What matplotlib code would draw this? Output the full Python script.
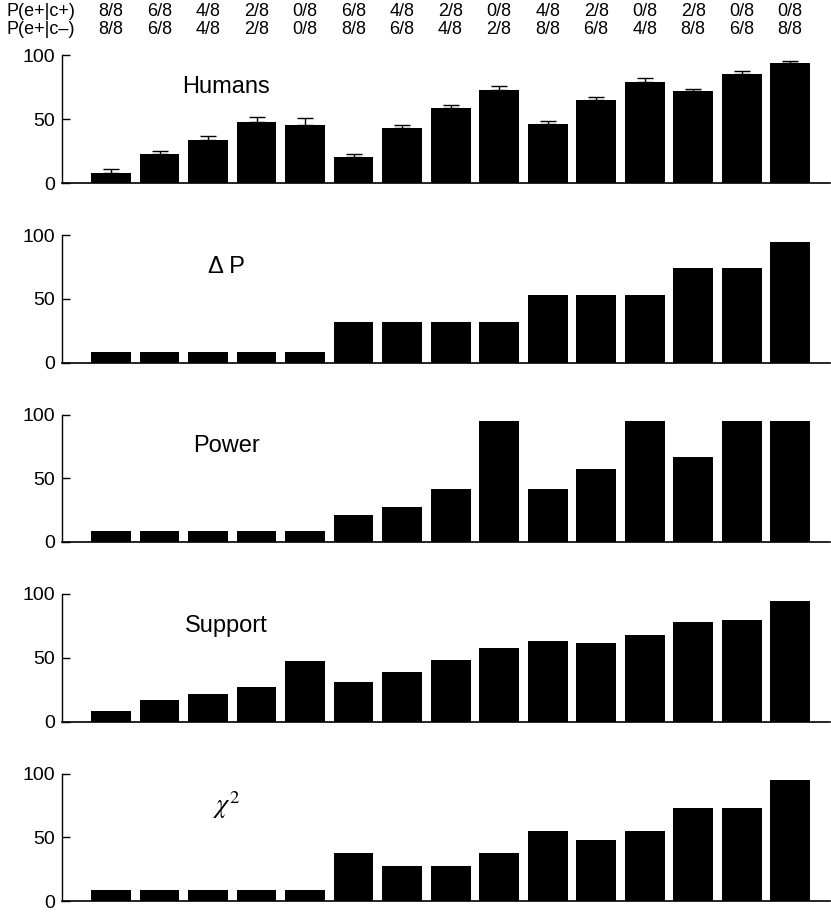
import matplotlib
matplotlib.use("Agg")
import matplotlib.pyplot as plt
import matplotlib.transforms as mtransforms

plt.rcParams['font.family'] = ['Liberation Sans', 'DejaVu Sans']
plt.rcParams['mathtext.fontset'] = 'stix'

# contingency conditions (probability of effect given cause present / absent)
p_e_c_plus = ["8/8", "6/8", "4/8", "2/8", "0/8", "6/8", "4/8", "2/8", "0/8",
              "4/8", "2/8", "0/8", "2/8", "0/8", "0/8"]
p_e_c_minus = ["8/8", "6/8", "4/8", "2/8", "0/8", "8/8", "6/8", "4/8", "2/8",
               "8/8", "6/8", "4/8", "8/8", "6/8", "8/8"]

humans = [8.1, 22.5, 33.7, 47.5, 45.2, 20.6, 42.8, 58.5, 72.6,
          46.0, 64.8, 79.6, 71.8, 85.4, 94.3]
humans_err = [2.6, 2.8, 2.9, 3.9, 5.5, 2.1, 2.9, 2.9, 3.6,
              2.8, 2.3, 2.9, 2.1, 2.6, 1.5]
delta_p = [8.6, 8.6, 8.6, 8.6, 8.6, 31.9, 31.9, 31.9, 31.9,
           53.3, 53.3, 53.3, 74.2, 74.2, 94.5]
power = [8.6, 8.6, 8.6, 8.6, 8.6, 21.1, 27.2, 41.3, 94.8,
         41.3, 57.4, 94.8, 66.3, 94.8, 94.8]
support = [8.6, 17.2, 21.7, 27.4, 47.3, 31.3, 38.6, 48.6, 57.7,
           63.2, 61.6, 67.9, 78.1, 79.6, 94.8]
chi_sq = [8.6, 8.6, 8.6, 8.6, 8.6, 37.3, 27.7, 27.7, 37.3,
          55.1, 48.0, 55.1, 73.1, 73.1, 94.8]

panels = [("Humans", humans), ("\u0394 P", delta_p), ("Power", power),
          ("Support", support), (r"$\chi^2$", chi_sq)]

W, H = 831, 914
fig = plt.figure(figsize=(W / 100, H / 100), dpi=100)

x = list(range(len(humans)))
axes = []
for k, (name, vals) in enumerate(panels):
    bottom = 1 - (183 + 179.5 * k) / H
    ax = fig.add_axes([62 / W, bottom, 768 / W, 127.5 / H])
    if k == 0:
        ax.bar(x, vals, width=0.82, color="black",
               yerr=[[0] * len(vals), humans_err], capsize=5.5,
               error_kw=dict(ecolor="black", elinewidth=1.0, capthick=1.0))
    else:
        ax.bar(x, vals, width=0.82, color="black")
    ax.set_xlim(-1.01, 14.82)
    ax.set_ylim(0, 100)
    ax.set_yticks([0, 50, 100])
    ax.set_xticks([])
    ax.tick_params(axis="y", direction="in", length=6, width=1, labelsize=14, pad=5)
    for s in ["top", "right"]:
        ax.spines[s].set_visible(False)
    ax.spines["left"].set_linewidth(1.0)
    ax.spines["bottom"].set_linewidth(1.2)
    fs = 19 if name.startswith("$") else 17
    ax.text(2.38, 75, name, ha="center", va="center", fontsize=fs)
    axes.append(ax)

# condition labels above the top panel
trans = mtransforms.blended_transform_factory(axes[0].transData, fig.transFigure)
y1 = 1 - 12 / H
y2 = 1 - 30 / H
fig.text(6 / W, y1, "P(e+|c+)", ha="left", va="center", fontsize=13)
fig.text(6 / W, y2, "P(e+|c\u2013)", ha="left", va="center", fontsize=13)
for i in x:
    axes[0].text(i, y1, p_e_c_plus[i], transform=trans, ha="center", va="center", fontsize=13)
    axes[0].text(i, y2, p_e_c_minus[i], transform=trans, ha="center", va="center", fontsize=13)

fig.savefig("out.png", dpi=100)
